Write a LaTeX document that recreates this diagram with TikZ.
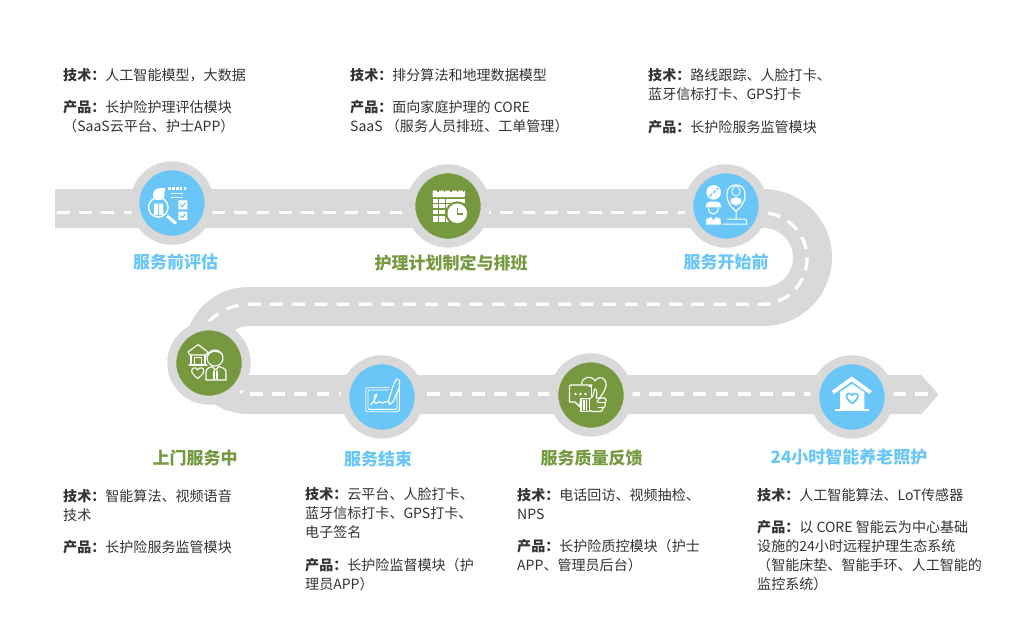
\documentclass[tikz,border=0pt]{standalone}
\usepackage{fontspec}
\setmainfont{Noto Sans CJK SC}
\definecolor{roadgray}{HTML}{D9D9D9}
\definecolor{skyb}{HTML}{69C6F7}
\definecolor{leaf}{HTML}{76993F}
\definecolor{bodytxt}{HTML}{333333}
\tikzset{
  stopblue/.style={circle,inner sep=0pt,minimum size=74.4pt,draw=roadgray,line width=9pt,fill=skyb},
  stopgreen/.style={stopblue,fill=leaf},
  txt/.style={anchor=north west,inner sep=0pt,align=left,text=bodytxt,font=\fontsize{14.05}{19.2}\selectfont},
  titleb/.style={inner sep=0pt,text=skyb,font=\fontsize{17}{20}\selectfont\bfseries},
  titleg/.style={titleb,text=leaf},
  ic/.style={draw=white,line width=1.1pt,line join=round,line cap=round},
  icf/.style={fill=white,draw=none},
  centreline/.style={white,line width=3.2pt,dash pattern=on 12.8pt off 9.37pt},
  pics/heartshape/.style={code={
    \path[pic actions] (0,1) .. controls (-0.5,0.55) and (-1.1,0.15) .. (-1.1,-0.4)
      .. controls (-1.1,-1.05) and (-0.3,-1.15) .. (0,-0.55)
      .. controls (0.3,-1.15) and (1.1,-1.05) .. (1.1,-0.4)
      .. controls (1.1,0.15) and (0.5,0.55) .. (0,1) -- cycle;
  }}
}
\newcommand{\lb}[1]{\textbf{#1：}}
\begin{document}
\begin{tikzpicture}[x=1pt,y=-1pt]
\useasboundingbox (0,0) rectangle (1010,622);
% road
\draw[roadgray,line width=39pt]
  (55,208.5) -- (763.5,208.5)
  .. controls (790.6,208.5) and (812.5,230.4) .. (812.5,257.5)
  .. controls (812.5,284.6) and (790.6,306.5) .. (763.5,306.5)
  -- (248,306.5)
  .. controls (223.7,306.5) and (204,326.2) .. (204,350.5)
  .. controls (204,374.8) and (223.7,394.5) .. (248,394.5)
  -- (922,394.5);
\fill[roadgray] (921,374.5) -- (938.5,394.5) -- (921,414.5) -- cycle;
% centre line, piece by piece
\draw[centreline] (57,212.7) -- (761.5,212.7);
\draw[white,line width=3.2pt,dash pattern=on 12.8pt off 8.6pt,dash phase=14.9pt]
  (761.5,212.7)
  .. controls (786.6,212.7) and (807,233.2) .. (807,258.5)
  .. controls (807,283.8) and (786.6,304.2) .. (761.5,304.2);
\draw[centreline] (770.7,304.2) -- (250,304.2)
  .. controls (222,304.2) and (198,324) .. (198,349);
\draw[white,line width=3.2pt] (240.5,391) -- (242.5,392.5);
\draw[centreline] (250,394) -- (929,394);
% stops
\node[stopblue]  (c1) at (172,203) {};
\node[stopgreen] (c2) at (448,206) {};
\node[stopblue]  (c3) at (726,206) {};
\node[stopgreen] (c4) at (209,363) {};
\node[stopblue]  (c5) at (382,397) {};
\node[stopgreen] (c6) at (591,395) {};
\node[stopblue]  (c7) at (852,397) {};
% icon 1
\draw[ic,line width=1.4pt] (158.3,207.3) circle (9.8);
\draw[white,line width=3pt] (167,216) -- (176,223.5);
\fill[icf] (153,196) .. controls (152,190) and (157,186.5) .. (165.5,188.5) -- (164.5,192.5) -- (164,197.5) .. controls (163,200) and (157,201) .. (155,199.5) -- cycle;
\fill[icf] (154,203.5) -- (163,203.5) -- (163.5,215) -- (154,215) -- cycle;
\draw[skyb,line width=.9pt] (158.5,203.5) -- (158.5,215);
\draw[white,line width=3.6pt,dash pattern=on 2.6pt off 1.2pt] (168.3,188.5) -- (187.3,188.5);
\draw[white,line width=1pt] (171,193.3) -- (183,193.3) (171,197) -- (183,197);
\fill[icf] (178.3,200.3) rectangle (187.3,209.3) (178.3,211.7) rectangle (187.3,220);
\draw[skyb,line width=1pt] (180.3,204.6) -- (182.3,206.8) -- (185.4,202.8) (180.3,215.6) -- (182.3,217.8) -- (185.4,213.8);
% icon 2
\fill[icf,rounded corners=1pt] (432.5,190.5) rectangle (465,197);
\fill[icf] (432.5,198.5) rectangle (465,221.5);
\draw[leaf,line width=1pt] (438.5,198.5) -- (438.5,221.5) (445,198.5) -- (445,221.5);
\draw[leaf,line width=1.2pt] (432.5,203.5) -- (465,203.5) (432.5,209) -- (465,209) (432.5,215) -- (465,215);
\draw[leaf,line width=1.5pt,dash pattern=on 1.5pt off 5pt] (437,191) -- (464,191);
\fill[leaf] (457.3,213.3) circle (12);
\fill[white] (457.3,213.3) circle (9.8);
\draw[leaf,line width=1.3pt] (457.3,207.5) -- (457.3,214) -- (463,214);
% icon 3
\fill[icf] (713.7,192.3) circle (7.3);
\draw[skyb,line width=1.4pt,dash pattern=on 3.5pt off 1.5pt] (709.5,196.5) -- (718,188);
\fill[icf] (705.8,207.3) .. controls (706,200.5) and (710,202) .. (713.3,201.5) .. controls (717,202) and (720.8,200.5) .. (721,207.3) -- cycle;
\draw[ic] (708.5,208) .. controls (708.5,216) and (718.3,216) .. (718.3,208);
\fill[icf] (706,224.5) -- (706.5,219) -- (711,217) -- (713.4,220.5) -- (716,217) -- (720.5,219) -- (721,224.5) -- cycle;
\draw[ic] (736,211.5) .. controls (731,206.5) and (727,203.5) .. (727,194.3) .. controls (727,188) and (731,185) .. (736,185) .. controls (741,185) and (745,188) .. (745,194.3) .. controls (745,203.5) and (741,206.5) .. (736,211.5) -- cycle;
\draw[ic,line width=.8pt] (732,192) .. controls (732,184) and (740,184) .. (740,192) .. controls (740,197) and (732,197) .. (732,192);
\fill[icf] (730.5,203) -- (731,199) -- (736,197) -- (741,199) -- (741.5,203) -- (736,205.5) -- cycle;
\draw[ic,line width=1pt] (736,211.5) -- (736,219) -- (727,219) (736,219) -- (746,219) -- (747,224) -- (722.8,224);
% icon 4
\draw[ic] (188,352) -- (198,344.5) -- (208,352) -- (206,355) -- (190,355) -- cycle;
\draw[ic] (191,355) -- (191,364.5) (205,355) -- (205,364.5) (189,365) -- (207,365);
\draw[ic] (194.5,365) -- (194.5,357.5) -- (201.5,357.5) -- (201.5,365);
\draw[ic] (215,358) circle (8);
\draw[ic] (207,357) .. controls (209,351) and (216,349) .. (222,354);
\draw[ic] (206,380) -- (206,372) .. controls (206,368) and (210,367.5) .. (212,366.5) -- (215.5,370) -- (219,366.5) .. controls (222,368) and (226,368) .. (226,372) -- (226,380) -- cycle;
\draw[ic] (214,371) -- (214,379) (217,371) -- (217,379);
\pic[ic,scale=5.5] at (197.7,373) {heartshape};
% icon 5
\draw[ic,rounded corners=1.5pt,line width=.9pt] (365.7,387.7) rectangle (399.3,411.7);
\draw[ic,rounded corners=1pt,line width=.9pt] (368,390) rectangle (397,409.3);
\draw[skyb,line width=8pt] (397,380) -- (390,400);
\draw[ic] (393,386) -- (396.5,379) -- (399.5,380.5) -- (399.5,387) -- (393,402) -- (389.5,404.5) -- (388.5,400.5) -- cycle;
\draw[ic] (370.7,405) .. controls (374,401) and (378,394) .. (376.5,394) .. controls (373.5,394) and (373,405) .. (376.5,403.5) .. controls (379,402) and (380,400) .. (381,402.5) .. controls (382,404.5) and (385,400.5) .. (388,402);
% icon 6
\draw[ic] (592,385) -- (570.5,385) -- (569.5,386) -- (569.5,402) -- (575,402) -- (580,407) -- (580,402) -- (581,402);
\draw[ic] (589,386) -- (591.7,386) -- (591.7,396);
\fill[icf] (575.5,394) circle (1.3) (580.5,394) circle (1.3) (585.5,394) circle (1.3);
\draw[ic] (581.5,384.5) .. controls (582,376) and (592,375) .. (595,381) .. controls (599,375) and (607,377) .. (606,386) .. controls (605,392) and (600,397) .. (597,402);
\draw[ic] (581,398.5) rectangle (589.3,411.5);
\draw[ic] (584,400) -- (584,410) (586.5,400) -- (586.5,410);
\draw[ic] (589.3,399) -- (592,397) .. controls (594,394) and (594,391) .. (594.5,389) .. controls (597,389) and (597.5,393) .. (596,398) -- (605,398) .. controls (607,399) and (606.5,402) .. (605,403) .. controls (606,405) and (605,408) .. (603,408) .. controls (603,410) and (602,411.5) .. (600,411.5) -- (592,411.5) -- (589.3,410);
\draw[ic,line width=.8pt] (598,402) -- (605,402) (598,407) -- (603,407);
% icon 7
\fill[icf] (851.7,376.5) -- (871.9,391) -- (869.5,394) -- (851.7,381.5) -- (834,394) -- (831.6,391) -- cycle;
\fill[icf] (840,392) -- (851.7,384) -- (864.3,392) -- (864.3,409.5) -- (840,409.5) -- cycle;
\fill[icf] (835,409.3) rectangle (869.3,411.3);
\pic[draw=skyb,line width=1.8pt,line join=round,scale=5.2] at (852.2,398.3) {heartshape};
% titles
\node[titleb] (n1) at (175.5,262) {服务前评估};
\node[titleg] (n2) at (451,263) {护理计划制定与排班};
\node[titleb] (n3) at (726,262) {服务开始前};
\node[titleg] (n4) at (195,458) {上门服务中};
\node[titleb] (n5) at (378,459) {服务结束};
\node[titleg] (n6) at (591.5,458) {服务质量反馈};
\node[titleb] (n7) at (849,457) {24小时智能养老照护};
% texts
\node[txt] (a1) at (63,66.5) {\strut\lb{技术}人工智能模型，大数据};
\node[txt] (b1) at (63,98.5) {\strut\lb{产品}长护险护理评估模块\\（SaaS云平台、护士APP）};
\node[txt] (a2) at (350,66.5) {\strut\lb{技术}排分算法和地理数据模型};
\node[txt] (b2) at (350,98.5) {\strut\lb{产品}面向家庭护理的 CORE\\SaaS （服务人员排班、工单管理）};
\node[txt] (a3) at (648,66.5) {\strut\lb{技术}路线跟踪、人脸打卡、\\蓝牙信标打卡、GPS打卡};
\node[txt] (b3) at (648,118.5) {\strut\lb{产品}长护险服务监管模块};
\node[txt] (a4) at (63,487.5) {\strut\lb{技术}智能算法、视频语音\\技术};
\node[txt] (b4) at (63,538.5) {\strut\lb{产品}长护险服务监管模块};
\node[txt] (a5) at (305,485.5) {\strut\lb{技术}云平台、人脸打卡、\\蓝牙信标打卡、GPS打卡、\\电子签名};
\node[txt] (b5) at (305,556.5) {\strut\lb{产品}长护险监督模块（护\\理员APP）};
\node[txt] (a6) at (517,486.5) {\strut\lb{技术}电话回访、视频抽检、\\NPS};
\node[txt] (b6) at (517,537.5) {\strut\lb{产品}长护险质控模块（护士\\APP、管理员后台）};
\node[txt] (a7) at (757,486.5) {\strut\lb{技术}人工智能算法、LoT传感器};
\node[txt] (b7) at (757,518.5) {\strut\lb{产品}以 CORE 智能云为中心基础\\设施的24小时远程护理生态系统\\（智能床垫、智能手环、人工智能的\\监控系统）};
\end{tikzpicture}
\end{document}
